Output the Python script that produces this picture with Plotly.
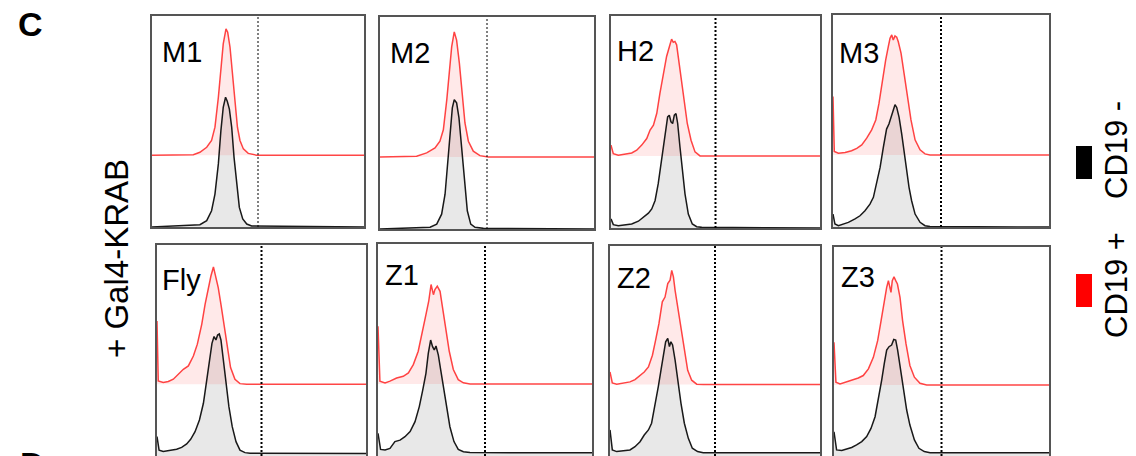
import plotly.graph_objects as go

W, H = 1136, 456

# ---------------- data (x: fluorescence, 0-100 scale; y: % of panel height) ----------------
panel_names = ["M1", "M2", "H2", "M3", "Fly", "Z1", "Z2", "Z3"]
gate_value = 50
red_offset = 34  # stacked-histogram offset of the CD19+ trace

M1_bx = [0, 22.6, 25.8, 28.1, 29.7, 31.3, 32.5, 33.6, 34.7, 35.5, 36.5, 37.6, 38.7, 39.9, 41.2, 42.8, 44.7, 47.0, 100]
M1_b = [0, 1.1, 3.0, 7.7, 15.6, 29.9, 45.7, 56.7, 61.5, 59.6, 55.9, 47.2, 33.0, 20.4, 9.3, 3.8, 1.4, 0.5, 0]
M1_rx = [0, 19.5, 22.6, 25.8, 28.1, 29.7, 31.3, 32.5, 33.6, 34.9, 35.7, 36.8, 38.1, 39.2, 40.3, 41.5, 43.1, 45.4, 49.4, 100]
M1_r = [0, 0.3, 1.4, 3.8, 7.0, 13.3, 27.5, 41.7, 52.8, 59.9, 58.3, 51.2, 37.0, 22.7, 13.3, 7.0, 3.0, 0.9, 0, 0]

M2_bx = [0, 23.4, 26.5, 28.8, 30.4, 31.6, 32.7, 33.8, 34.7, 35.8, 36.9, 38.2, 39.4, 40.8, 42.4, 44.4, 48.3, 100]
M2_b = [0, 0.8, 2.3, 7.0, 16.4, 30.5, 46.2, 57.1, 61.0, 59.5, 52.4, 38.3, 22.7, 8.6, 2.3, 0.8, 0.3, 0]
M2_rx = [0, 17.1, 21.8, 25.7, 28.0, 29.6, 31.2, 32.4, 33.5, 34.7, 35.8, 37.1, 38.2, 39.7, 41.3, 43.6, 46.7, 50.6, 100]
M2_r = [0, 0.3, 1.9, 4.2, 7.4, 12.8, 26.9, 41.0, 52.0, 59.0, 55.1, 44.1, 31.6, 16.0, 7.4, 2.7, 0.6, 0, 0]

H2_bx = [0, 1.1, 3.5, 6.7, 9.9, 13.1, 15.5, 17.9, 19.5, 21.1, 22.6, 23.9, 25.0, 26.2, 27.1, 27.9, 28.7, 29.5, 30.3, 31.1, 31.9, 33.0, 34.1, 35.4, 37.0, 38.9, 41.0, 43.4, 100]
H2_b = [4.3, 1.6, 1.1, 1.4, 1.9, 3.2, 5.1, 7.0, 9.0, 13.0, 20.9, 30.3, 38.2, 47.7, 52.4, 53.2, 50.1, 49.3, 53.2, 54.0, 49.3, 38.2, 27.2, 16.1, 6.6, 1.9, 0.6, 0.3, 0]
H2_rx = [0, 1.1, 3.5, 6.7, 9.9, 12.3, 14.7, 17.1, 18.7, 20.3, 21.9, 23.4, 25.0, 26.6, 28.2, 29.0, 29.8, 30.6, 31.4, 32.2, 33.5, 34.9, 36.5, 38.3, 40.2, 42.6, 100]
H2_r = [5.1, 1.1, 0.3, 0.8, 1.4, 2.7, 5.1, 8.2, 12.2, 14.5, 20.1, 29.5, 39.0, 46.9, 52.4, 55.1, 53.6, 54.0, 52.4, 46.9, 37.4, 26.4, 15.3, 7.4, 1.9, 0, 0]

M3_bx = [0, 0.9, 2.5, 4.8, 7.1, 10.2, 12.5, 14.8, 17.1, 18.7, 20.2, 21.8, 23.3, 24.8, 25.9, 26.9, 27.9, 28.7, 29.5, 30.6, 31.8, 33.0, 34.1, 35.2, 36.4, 38.0, 40.3, 42.6, 44.9, 100]
M3_b = [6.1, 1.4, 0.6, 1.4, 2.2, 3.8, 5.3, 7.7, 10.8, 14.0, 20.3, 28.1, 37.6, 46.2, 48.6, 51.7, 55.7, 57.7, 56.4, 51.7, 43.9, 34.4, 25.0, 18.7, 12.4, 6.1, 2.2, 0.6, 0.2, 0]
M3_rx = [0, 0.6, 2.5, 5.6, 8.6, 11.0, 13.3, 15.6, 17.9, 19.8, 21.3, 22.8, 24.4, 25.6, 26.4, 27.2, 27.9, 28.7, 29.5, 30.2, 31.5, 32.9, 34.4, 36.1, 38.0, 40.3, 42.6, 44.9, 100]
M3_r = [27.5, 1.6, 0.8, 1.1, 2.0, 3.1, 4.7, 7.9, 11.8, 16.5, 24.4, 35.4, 44.8, 51.1, 55.0, 56.6, 54.2, 56.1, 55.5, 53.5, 48.0, 38.5, 27.5, 16.5, 7.1, 2.4, 0.5, 0, 0]

Fly_bx = [0, 1.0, 3.0, 6.2, 9.4, 11.8, 14.2, 16.1, 18.2, 20.3, 22.2, 23.8, 25.0, 26.3, 27.3, 28.2, 29.0, 29.8, 30.6, 31.7, 33.0, 34.4, 36.0, 37.8, 39.7, 42.1, 44.5, 100]
Fly_b = [9.2, 2.8, 2.1, 2.5, 3.2, 4.1, 5.7, 7.9, 11.5, 17.1, 25.0, 36.0, 45.5, 53.4, 56.6, 55.0, 57.3, 57.8, 55.0, 45.5, 34.4, 23.4, 13.9, 6.8, 2.8, 1.6, 1.3, 1.2]
Fly_rx = [0, 0.6, 3.0, 5.4, 7.8, 10.2, 12.6, 15.0, 17.4, 19.3, 21.4, 23.0, 24.6, 25.8, 27.0, 28.1, 29.3, 30.6, 32.1, 33.7, 35.2, 37.3, 39.7, 42.9, 100]
Fly_r = [30.0, 1.6, 0.8, 1.3, 2.4, 4.7, 7.1, 8.7, 13.4, 19.0, 28.4, 37.9, 45.8, 51.3, 55.6, 51.3, 45.8, 37.9, 28.4, 17.4, 7.9, 2.4, 0.3, 0, 0]

Z1_bx = [0, 1.2, 3.3, 5.6, 7.9, 10.3, 12.6, 15.0, 17.3, 19.3, 20.9, 22.4, 23.5, 24.6, 25.5, 26.3, 27.1, 28.2, 29.3, 30.5, 32.1, 33.6, 35.5, 37.5, 39.9, 43.0, 100]
Z1_b = [10.7, 3.1, 2.8, 3.6, 6.8, 7.5, 9.1, 11.5, 16.2, 23.3, 31.1, 39.0, 48.4, 54.7, 51.6, 50.0, 51.9, 47.6, 40.6, 32.7, 23.3, 13.8, 6.8, 3.1, 2.0, 1.6, 1.5]
Z1_rx = [0, 0.9, 3.3, 5.6, 8.7, 11.8, 14.2, 16.5, 18.8, 20.9, 22.4, 23.7, 24.8, 25.9, 26.6, 27.7, 29.0, 30.2, 31.8, 33.3, 35.2, 37.5, 39.9, 43.0, 100]
Z1_r = [27.2, 1.3, 0.5, 1.3, 2.8, 3.6, 5.2, 9.1, 15.4, 24.8, 32.7, 39.0, 46.9, 42.1, 44.5, 46.1, 43.7, 35.8, 24.8, 15.4, 6.8, 2.0, 0.5, 0, 0]

Z2_bx = [0, 1.1, 3.2, 6.3, 9.5, 11.9, 14.3, 16.3, 18.3, 19.8, 21.4, 23.0, 24.3, 25.4, 26.5, 27.5, 28.3, 29.0, 29.8, 31.0, 32.2, 33.8, 35.4, 37.3, 39.2, 41.7, 44.4, 100]
Z2_b = [12.4, 2.9, 2.1, 2.4, 2.9, 4.4, 6.8, 10.0, 12.4, 15.6, 23.5, 33.0, 41.0, 48.9, 54.4, 56.0, 52.1, 54.4, 52.9, 45.7, 36.2, 25.1, 15.6, 8.4, 3.7, 2.1, 1.6, 1.5]
Z2_rx = [0, 1.1, 3.2, 6.3, 9.5, 11.9, 14.3, 16.3, 18.3, 20.2, 21.7, 23.3, 24.9, 26.2, 27.5, 28.6, 29.4, 30.2, 31.0, 32.2, 33.7, 35.2, 37.0, 38.9, 41.3, 44.4, 100]
Z2_r = [6.0, 0.8, 0.2, 0.8, 1.3, 2.4, 4.4, 6.0, 8.4, 14.0, 21.1, 29.0, 39.4, 41.7, 48.1, 49.7, 54.4, 51.3, 44.9, 37.0, 27.5, 16.3, 6.8, 2.1, 0.2, 0, 0]

Z3_bx = [0, 1.2, 3.6, 5.9, 8.2, 10.5, 12.9, 15.2, 17.2, 19.1, 20.6, 22.2, 23.4, 24.5, 25.6, 26.8, 27.8, 28.7, 29.6, 30.9, 32.2, 33.8, 35.3, 37.4, 39.5, 42.0, 44.7, 100]
Z3_b = [11.6, 2.9, 2.6, 3.2, 4.1, 5.3, 6.9, 9.3, 13.2, 18.8, 26.8, 36.4, 44.3, 50.7, 52.3, 53.1, 55.8, 55.5, 50.7, 41.1, 31.6, 22.0, 14.8, 7.7, 3.7, 2.1, 1.6, 1.5]
Z3_rx = [0, 0.9, 2.8, 5.1, 8.2, 11.3, 13.6, 16.0, 18.3, 20.3, 21.9, 23.4, 24.5, 25.3, 26.0, 26.5, 27.1, 27.9, 28.7, 29.5, 30.7, 31.9, 33.5, 35.3, 37.4, 40.0, 43.1, 100]
Z3_r = [20.4, 1.3, 0.5, 1.3, 2.4, 3.3, 4.5, 7.7, 13.2, 21.2, 30.8, 40.4, 46.7, 49.9, 46.7, 44.3, 49.9, 51.8, 49.9, 48.3, 41.9, 30.8, 19.6, 9.3, 3.7, 0.8, 0, 0]

black_x = [M1_bx, M2_bx, H2_bx, M3_bx, Fly_bx, Z1_bx, Z2_bx, Z3_bx]
black_y = [M1_b, M2_b, H2_b, M3_b, Fly_b, Z1_b, Z2_b, Z3_b]
red_x = [M1_rx, M2_rx, H2_rx, M3_rx, Fly_rx, Z1_rx, Z2_rx, Z3_rx]
red_y = [M1_r, M2_r, H2_r, M3_r, Fly_r, Z1_r, Z2_r, Z3_r]

# ---------------- layout (pixel boxes: left, top, right, bottom) ----------------
boxes = [(152, 16, 364, 227), (380, 17, 594, 229), (611, 16, 820, 228), (833, 15, 1049, 227),
         (157, 245, 366, 456), (378, 244, 592, 456), (610, 246, 820, 456), (834, 247, 1049, 456)]
label_dx = [8, 8, 4, 4, 3, 5, 5, 5]
label_dy = [36, 36, 35, 38, 35, 31, 32, 30]
gate_widths = [1, 1, 2, 2, 2, 2, 2, 2]

FONT = "Liberation Sans, Arial, sans-serif"
RED_LINE = "rgb(255,70,70)"
RED_FILL = "rgba(255,0,0,0.085)"
GRAY_FILL = "rgb(232,232,232)"
BLACK_LINE = "rgb(25,25,25)"

def px(x):
    return x / W

def py(y):
    return 1 - y / H

fig = go.Figure()
layout = dict(width=W, height=H, margin=dict(l=0, r=0, t=0, b=0),
              paper_bgcolor="white", plot_bgcolor="white", showlegend=False)
annotations = []

for i, name in enumerate(panel_names):
    n = "" if i == 0 else str(i + 1)
    xa, ya = "x" + n, "y" + n
    l, t, r, b = boxes[i]
    axcommon = dict(showgrid=False, zeroline=False, showticklabels=False, ticks="",
                    showline=True, mirror=True, linecolor="rgb(85,85,85)", linewidth=1.5,
                    fixedrange=True)
    layout["xaxis" + n] = dict(domain=[px(l), px(r)], range=[0, 100], anchor=ya, **axcommon)
    layout["yaxis" + n] = dict(domain=[py(b), py(t)], range=[0, 100], anchor=xa, **axcommon)

    rx = red_x[i]
    ry = [v + red_offset for v in red_y[i]]
    # 1) red outline
    fig.add_trace(go.Scatter(x=rx, y=ry, mode="lines", line=dict(color=RED_LINE, width=1.5),
                             xaxis=xa, yaxis=ya, hoverinfo="skip"))
    # 2) gray fill of CD19- histogram (hides the red baseline under it)
    fig.add_trace(go.Scatter(x=black_x[i], y=black_y[i], mode="lines", line=dict(width=0),
                             fill="tozeroy", fillcolor=GRAY_FILL, xaxis=xa, yaxis=ya, hoverinfo="skip"))
    # 3) translucent pink fill of CD19+ histogram
    fig.add_trace(go.Scatter(x=rx + [rx[-1], rx[0]], y=ry + [red_offset, red_offset], mode="lines",
                             line=dict(width=0), fill="toself", fillcolor=RED_FILL,
                             xaxis=xa, yaxis=ya, hoverinfo="skip"))
    # 4) black outline
    fig.add_trace(go.Scatter(x=black_x[i], y=black_y[i], mode="lines",
                             line=dict(color=BLACK_LINE, width=1.5), xaxis=xa, yaxis=ya, hoverinfo="skip"))
    # gate line
    fig.add_trace(go.Scatter(x=[gate_value, gate_value], y=[0, 100], mode="lines",
                             line=dict(color="black", width=gate_widths[i], dash="2px,2px"),
                             xaxis=xa, yaxis=ya, hoverinfo="skip"))
    # panel label
    annotations.append(dict(text=name, x=px(l + label_dx[i]), y=py(t + label_dy[i]),
                            xref="paper", yref="paper", xanchor="left", yanchor="middle",
                            showarrow=False, font=dict(family=FONT, size=29, color="black")))

annotations += [
    dict(text="<b>C</b>", x=px(30), y=py(24), xref="paper", yref="paper", xanchor="center",
         yanchor="middle", showarrow=False, font=dict(family=FONT, size=34, color="black")),
    dict(text="<b>D</b>", x=px(32), y=py(464), xref="paper", yref="paper", xanchor="center",
         yanchor="middle", showarrow=False, font=dict(family=FONT, size=34, color="black")),
    dict(text="+ Gal4-KRAB", x=px(116), y=py(259), xref="paper", yref="paper", xanchor="center",
         yanchor="middle", textangle=-90, showarrow=False,
         font=dict(family=FONT, size=33, color="black")),
    dict(text="CD19 -", x=px(1116), y=py(150), xref="paper", yref="paper", xanchor="center",
         yanchor="middle", textangle=-90, showarrow=False,
         font=dict(family=FONT, size=31, color="black")),
    dict(text="CD19 +", x=px(1116), y=py(285), xref="paper", yref="paper", xanchor="center",
         yanchor="middle", textangle=-90, showarrow=False,
         font=dict(family=FONT, size=31, color="black")),
]
layout["annotations"] = annotations
layout["shapes"] = [
    dict(type="rect", xref="paper", yref="paper", x0=px(1076), x1=px(1092), y0=py(179), y1=py(146),
         fillcolor="black", line=dict(width=0)),
    dict(type="rect", xref="paper", yref="paper", x0=px(1076), x1=px(1092), y0=py(307), y1=py(274),
         fillcolor="rgb(255,0,0)", line=dict(width=0)),
]

fig.update_layout(**layout)
fig.write_html("out.html", config={"displayModeBar": False},
               post_script="document.body.style.margin='0';document.body.style.overflow='hidden';")
